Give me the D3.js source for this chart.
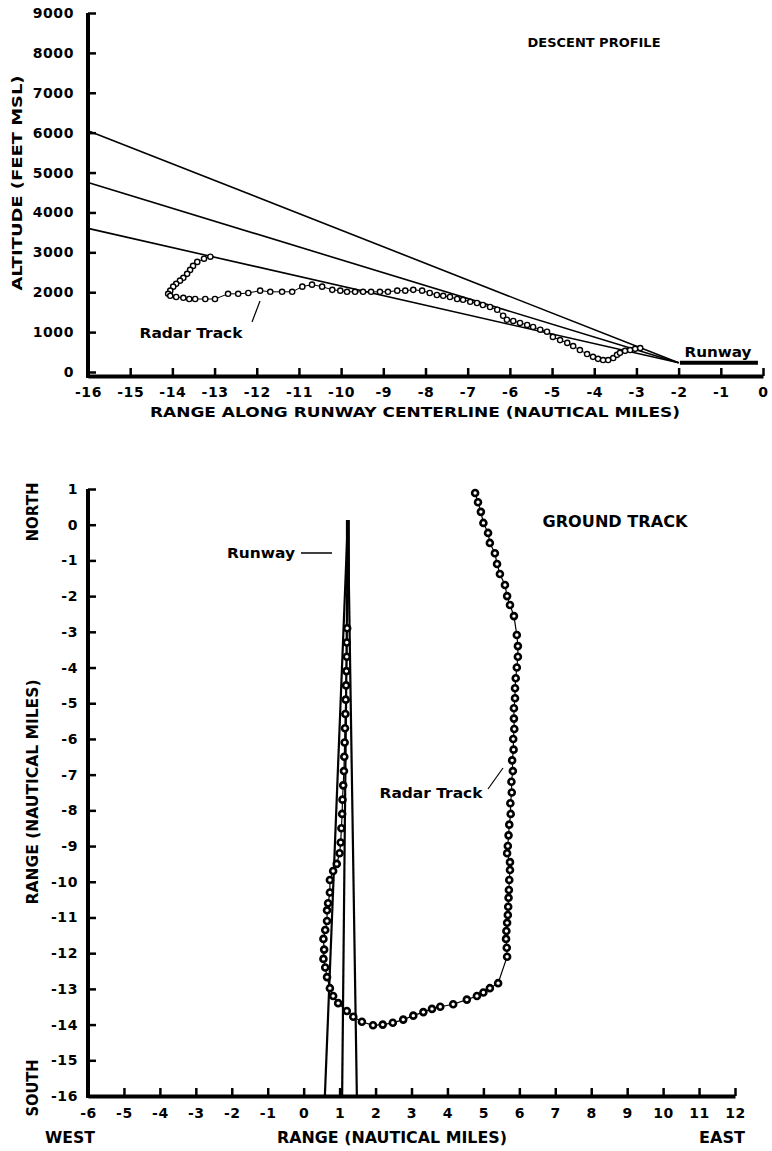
<!DOCTYPE html>
<html>
<head>
<meta charset="utf-8">
<script src="https://cdn.jsdelivr.net/npm/d3@7"></script>
<style>
  body { margin: 0; background: white; }
  text { font-family: "DejaVu Sans", "Liberation Sans", Arial, sans-serif; font-weight: bold; fill: black; }
</style>
</head>
<body>
<script>
const width = 772;
const height = 1151;

// descent profile: [range along centerline (nm), altitude (ft)]
const altTicks = [0, 1000, 2000, 3000, 4000, 5000, 6000, 7000, 8000, 9000];
const rangeTicks = [-16, -15, -14, -13, -12, -11, -10, -9, -8, -7, -6, -5, -4, -3, -2, -1, 0];
const glideStartAlt = [6050, 4750, 3600];
const glideRange = [-16, -2];
const runwayAlt = 230;
const runwayRange = [-1.97, -0.12];
const profileTrack = [
  [-13.10, 2890], [-13.25, 2840], [-13.41, 2760], [-13.51, 2660], [-13.58, 2560], [-13.65, 2460],
  [-13.74, 2360], [-13.82, 2290], [-13.91, 2210], [-13.98, 2140], [-14.05, 2040], [-14.10, 1960],
  [-14.05, 1910], [-13.91, 1880], [-13.74, 1860], [-13.60, 1830], [-13.46, 1830], [-13.22, 1830],
  [-12.99, 1830], [-12.68, 1960], [-12.44, 1960], [-12.20, 1980], [-11.92, 2040], [-11.68, 2010],
  [-11.40, 2010], [-11.16, 2010], [-10.92, 2140], [-10.69, 2190], [-10.45, 2140], [-10.21, 2060],
  [-10.02, 2040], [-9.86, 2010], [-9.67, 2010], [-9.48, 2010], [-9.29, 2010], [-9.08, 2010],
  [-8.89, 2010], [-8.67, 2040], [-8.48, 2040], [-8.29, 2060], [-8.08, 2040], [-7.90, 1980],
  [-7.73, 1930], [-7.58, 1910], [-7.42, 1880], [-7.25, 1830], [-7.11, 1810], [-6.94, 1760],
  [-6.78, 1730], [-6.64, 1680], [-6.47, 1630], [-6.30, 1560], [-6.16, 1410], [-6.07, 1310],
  [-5.92, 1280], [-5.76, 1230], [-5.59, 1180], [-5.45, 1130], [-5.28, 1060], [-5.12, 1010],
  [-4.98, 880], [-4.81, 800], [-4.64, 730], [-4.50, 650], [-4.34, 550], [-4.17, 450],
  [-4.03, 380], [-3.91, 330], [-3.79, 300], [-3.67, 300], [-3.55, 350], [-3.46, 430],
  [-3.39, 480], [-3.27, 530], [-3.15, 550], [-3.03, 580], [-2.91, 600]
];

// ground track: [east (nm), north (nm)]
const eastTicks = [-6, -5, -4, -3, -2, -1, 0, 1, 2, 3, 4, 5, 6, 7, 8, 9, 10, 11, 12];
const northTicks = [1, 0, -1, -2, -3, -4, -5, -6, -7, -8, -9, -10, -11, -12, -13, -14, -15, -16];
const approachApex = [1.23, 0.13];
const approachBaseEast = [0.59, 1.07, 1.48];
const approachBaseNorth = -16;
const runwayGround = [[1.23, 0.13], [1.23, -1.8]];
const groundTrack = [
  [4.77, 0.89], [4.85, 0.63], [4.93, 0.36], [5.0, 0.05], [5.13, -0.23], [5.18, -0.51], [5.32, -0.8],
  [5.38, -1.1], [5.46, -1.38], [5.6, -1.69], [5.66, -2.0], [5.74, -2.25], [5.85, -2.56], [5.93, -3.09],
  [5.96, -3.4], [5.96, -3.7], [5.93, -4.0], [5.9, -4.3], [5.88, -4.58], [5.88, -4.86], [5.85, -5.14],
  [5.85, -5.43], [5.86, -5.72], [5.83, -6.0], [5.84, -6.3], [5.8, -6.6], [5.82, -6.9], [5.78, -7.2],
  [5.79, -7.5], [5.75, -7.8], [5.76, -8.1], [5.72, -8.4], [5.7, -8.7], [5.68, -9.0], [5.66, -9.2],
  [5.74, -9.45], [5.74, -9.67], [5.72, -9.95], [5.71, -10.23], [5.7, -10.45], [5.69, -10.7],
  [5.68, -10.93], [5.66, -11.15], [5.64, -11.38], [5.63, -11.6], [5.65, -11.85], [5.66, -12.1],
  [5.41, -12.84], [5.18, -12.98], [5.0, -13.1], [4.82, -13.2], [4.54, -13.3], [4.16, -13.43],
  [3.8, -13.5], [3.57, -13.56], [3.33, -13.65], [3.05, -13.75], [2.77, -13.86], [2.48, -13.95],
  [2.2, -14.0], [1.93, -14.02], [1.62, -13.92], [1.38, -13.78], [1.2, -13.62], [0.96, -13.4],
  [0.82, -13.2], [0.73, -12.98], [0.65, -12.67], [0.6, -12.4], [0.55, -12.16], [0.57, -11.9],
  [0.55, -11.6], [0.6, -11.35], [0.65, -11.1], [0.65, -10.8], [0.68, -10.6], [0.73, -10.3],
  [0.73, -9.95], [0.82, -9.7], [0.92, -9.5], [1.0, -9.2], [1.03, -8.9], [1.05, -8.5], [1.07, -8.1],
  [1.08, -7.7], [1.1, -7.3], [1.12, -6.9], [1.13, -6.5], [1.14, -6.1], [1.15, -5.7], [1.16, -5.3],
  [1.17, -4.9], [1.18, -4.5], [1.19, -4.1], [1.2, -3.7], [1.2, -3.3], [1.21, -2.9]
];

const svg = d3.select("body").append("svg")
  .attr("width", width)
  .attr("height", height)
  .style("display", "block");

svg.append("rect").attr("width", width).attr("height", height).attr("fill", "white");

function styleAxis(g) {
  g.select(".domain").attr("stroke", "black").attr("stroke-width", 4);
  g.selectAll(".tick line").attr("stroke", "black").attr("stroke-width", 2.5);
  g.selectAll(".tick text")
    .attr("fill", "black")
    .style("font-size", "14px")
    .style("letter-spacing", "0.6px")
    .style("font-family", "'DejaVu Sans', sans-serif")
    .style("font-weight", "bold");
}

function label(txt, x, y, len, size, rotate) {
  const t = svg.append("text")
    .attr("x", x).attr("y", y)
    .attr("text-anchor", "middle")
    .style("font-size", size + "px")
    .attr("textLength", len)
    .attr("lengthAdjust", "spacingAndGlyphs")
    .text(txt);
  if (rotate) t.attr("transform", `rotate(-90,${x},${y})`);
  return t;
}

const plain = d => String(d);

// ---------- descent profile ----------
const x1 = d3.scaleLinear().domain([-16, 0]).range([88, 763]);
const y1 = d3.scaleLinear().domain([0, 9000]).range([372, 13]);

svg.append("g")
  .attr("transform", `translate(0,${y1(0) + 4})`)
  .call(d3.axisBottom(x1).tickValues(rangeTicks).tickFormat(plain).tickSize(-8).tickSizeOuter(0).tickPadding(11))
  .call(styleAxis);

svg.append("g")
  .attr("transform", `translate(${x1(-16)},0)`)
  .call(d3.axisLeft(y1).tickValues(altTicks).tickFormat(plain).tickSize(-8).tickSizeOuter(0).tickPadding(14))
  .call(styleAxis)
  .select(".domain").attr("d", `M0,${y1(9000)}V${y1(0) + 6}`);

for (const a of glideStartAlt) {
  svg.append("line")
    .attr("x1", x1(glideRange[0])).attr("y1", y1(a))
    .attr("x2", x1(glideRange[1])).attr("y2", y1(runwayAlt))
    .attr("stroke", "black").attr("stroke-width", 1.6);
}

svg.append("line")
  .attr("x1", x1(runwayRange[0])).attr("y1", y1(runwayAlt))
  .attr("x2", x1(runwayRange[1])).attr("y2", y1(runwayAlt))
  .attr("stroke", "black").attr("stroke-width", 4);

svg.append("path")
  .datum(profileTrack)
  .attr("d", d3.line().x(d => x1(d[0])).y(d => y1(d[1])))
  .attr("fill", "none").attr("stroke", "black").attr("stroke-width", 1);

svg.append("g").selectAll("circle")
  .data(profileTrack).join("circle")
  .attr("cx", d => x1(d[0])).attr("cy", d => y1(d[1]))
  .attr("r", 2.6)
  .attr("fill", "white").attr("stroke", "black").attr("stroke-width", 1.4);

label("DESCENT PROFILE", 594, 47, 133, 13);
label("ALTITUDE (FEET MSL)", 22, 183, 215, 14, true);
label("RANGE ALONG RUNWAY CENTERLINE (NAUTICAL MILES)", 415, 417, 530, 14);
label("Radar Track", 191, 338, 103, 14);
label("Runway", 718, 357, 67, 14);

svg.append("line")
  .attr("x1", 252).attr("y1", 322).attr("x2", 260).attr("y2", 301)
  .attr("stroke", "black").attr("stroke-width", 1.2);

// ---------- ground track ----------
const x2 = d3.scaleLinear().domain([-6, 12]).range([88, 735]);
const y2 = d3.scaleLinear().domain([-16, 1]).range([1096, 489]);

svg.append("g")
  .attr("transform", `translate(0,${y2(-16)})`)
  .call(d3.axisBottom(x2).tickValues(eastTicks).tickFormat(plain).tickSize(-8).tickSizeOuter(0).tickPadding(12))
  .call(styleAxis);

svg.append("g")
  .attr("transform", `translate(${x2(-6)},0)`)
  .call(d3.axisLeft(y2).tickValues(northTicks).tickFormat(plain).tickSize(-8).tickSizeOuter(0).tickPadding(10))
  .call(styleAxis)
  .select(".domain").attr("d", `M0,${y2(1)}V${y2(-16) + 2}`);

for (const e of approachBaseEast) {
  svg.append("line")
    .attr("x1", x2(approachApex[0])).attr("y1", y2(approachApex[1]))
    .attr("x2", x2(e)).attr("y2", y2(approachBaseNorth))
    .attr("stroke", "black").attr("stroke-width", 2.2);
}

svg.append("path")
  .datum(runwayGround)
  .attr("d", d3.line().x(d => x2(d[0])).y(d => y2(d[1])))
  .attr("stroke", "black").attr("stroke-width", 4);

svg.append("path")
  .datum(groundTrack)
  .attr("d", d3.line().x(d => x2(d[0])).y(d => y2(d[1])))
  .attr("fill", "none").attr("stroke", "black").attr("stroke-width", 1.2);

svg.append("g").selectAll("circle")
  .data(groundTrack).join("circle")
  .attr("cx", d => x2(d[0])).attr("cy", d => y2(d[1]))
  .attr("r", 3)
  .attr("fill", "white").attr("stroke", "black").attr("stroke-width", 2.6);

label("GROUND TRACK", 615, 527, 145, 15);
label("NORTH", 38, 512, 59, 15, true);
label("SOUTH", 38, 1088, 57, 15, true);
label("RANGE (NAUTICAL MILES)", 38, 792, 225, 15, true);
label("Runway", 261, 558, 68, 14);
label("Radar Track", 431, 798, 103, 14);
label("WEST", 70, 1143, 50, 15);
label("RANGE (NAUTICAL MILES)", 392, 1143, 230, 15);
label("EAST", 722, 1143, 46, 15);

svg.append("line")
  .attr("x1", 301).attr("y1", 553).attr("x2", 332).attr("y2", 553)
  .attr("stroke", "black").attr("stroke-width", 1.5);

svg.append("line")
  .attr("x1", 488).attr("y1", 789).attr("x2", 503).attr("y2", 768)
  .attr("stroke", "black").attr("stroke-width", 1.2);
</script>
</body>
</html>
